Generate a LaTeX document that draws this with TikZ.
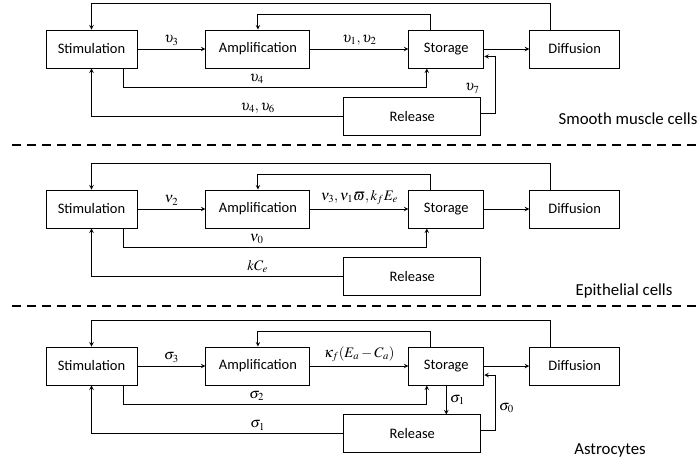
\documentclass[tikz,border=0pt]{standalone}
\usepackage{mathptmx}
\usepackage[no-math]{fontspec}
\setmainfont{Carlito}
\usetikzlibrary{positioning,arrows}
\tikzstyle{arrow} = [line width=1pt,->,>=stealth]
\tikzstyle{tBox} = [rectangle, draw=black, line width=0.9pt, align=center, minimum height=38pt, text centered, inner sep=2pt]
\tikzstyle{tDash} = [line width=2.4pt, dash pattern=on 9pt off 6pt]
\tikzstyle{tCells} = [font=\fontsize{16.8}{20}\selectfont]

\begin{document}
\begin{tikzpicture}[x=1pt,y=-1pt,font=\fontsize{14.5}{17}\selectfont]
        \useasboundingbox (0,0) rectangle (700,463);

        % smooth muscle cells
        \node[tBox, minimum width=91pt] (Stim1) at (91.5,49) {Stimulation};
        \node[tBox, minimum width=104pt] (Amp1) [right =68pt of Stim1] {Amplification} edge [arrow,<-] node[above] {$\upsilon_3$} (Stim1);
        \node[tBox, minimum width=75pt] (Stor1) [right =98pt of Amp1] {Storage} edge [arrow,<-] node[above] {$\upsilon_1,\upsilon_2$} (Amp1);
        \node[tBox, minimum width=90pt] (Diff1) [right =45pt of Stor1] {Diffusion} edge [arrow,<-] (Stor1);
        \node[tBox, minimum width=137pt] (Rel1) [below =29pt of Stor1, xshift=-34pt] {Release};
        \draw[arrow] ([xshift=-24pt]Diff1.north) -- ++(0,-26) -| (Stim1.north);
        \draw[arrow] ([xshift=-15.5pt]Stor1.north) -- ++(0,-15) -| (Amp1.north);
        \draw[arrow] ([xshift=31.5pt]Stim1.south) -- ++(0,19) -| node[pos=0.22,above] {$\upsilon_4$} ([xshift=-19.5pt]Stor1.south);
        \draw[arrow] (Rel1.west) -| node[pos=0.17,above] {$\upsilon_4,\upsilon_6$} (Stim1.south);
        \draw[arrow] ([yshift=3.5pt]Rel1.east) -- ++(14,0) |- node[pos=0.22,left=12pt] {$\upsilon_7$} ([yshift=-7.5pt]Stor1.east);
        \node[tCells] (Cells1) at (628,119) {Smooth muscle cells};
        \draw[tDash] (12,145) -- (700,145);

        % epithelial cells
        \node[tBox, minimum width=91pt] (Stim2) at (91.5,209) {Stimulation};
        \node[tBox, minimum width=104pt] (Amp2) [right =68pt of Stim2] {Amplification} edge [arrow,<-] node[above] {$\nu_2$} (Stim2);
        \node[tBox, minimum width=75pt] (Stor2) [right =98pt of Amp2] {Storage} edge [arrow,<-] node[above] {$\nu_3,\nu_1\varpi,k_f E_e$} (Amp2);
        \node[tBox, minimum width=90pt] (Diff2) [right =45pt of Stor2] {Diffusion} edge [arrow,<-] (Stor2);
        \node[tBox, minimum width=137pt] (Rel2) [below =29pt of Stor2, xshift=-34pt] {Release};
        \draw[arrow] ([xshift=-24pt]Diff2.north) -- ++(0,-26) -| (Stim2.north);
        \draw[arrow] ([xshift=-15.5pt]Stor2.north) -- ++(0,-15) -| (Amp2.north);
        \draw[arrow] ([xshift=31.5pt]Stim2.south) -- ++(0,19) -| node[pos=0.22,above] {$\nu_0$} ([xshift=-19.5pt]Stor2.south);
        \draw[arrow] (Rel2.west) -| node[pos=0.17,above] {$kC_e$} (Stim2.south);
        \node[tCells] (Cells2) at (624,291) {Epithelial cells};
        \draw[tDash] (12,306) -- (700,306);

        % astrocytes
        \node[tBox, minimum width=91pt] (Stim3) at (91.5,366) {Stimulation};
        \node[tBox, minimum width=104pt] (Amp3) [right =68pt of Stim3] {Amplification} edge [arrow,<-] node[above] {$\sigma_3$} (Stim3);
        \node[tBox, minimum width=75pt] (Stor3) [right =98pt of Amp3] {Storage} edge [arrow,<-] node[above] {$\kappa_f(E_a-C_a)$} (Amp3);
        \node[tBox, minimum width=90pt] (Diff3) [right =45pt of Stor3] {Diffusion} edge [arrow,<-] (Stor3);
        \node[tBox, minimum width=137pt] (Rel3) [below =29pt of Stor3, xshift=-34pt] {Release};
        \draw[arrow] ([xshift=-24pt]Diff3.north) -- ++(0,-26) -| (Stim3.north);
        \draw[arrow] ([xshift=-15.5pt]Stor3.north) -- ++(0,-15) -| (Amp3.north);
        \draw[arrow] ([xshift=31.5pt]Stim3.south) -- ++(0,19) -| node[pos=0.22,above] {$\sigma_2$} ([xshift=-19.5pt]Stor3.south);
        \draw[arrow] (Rel3.west) -| node[pos=0.17,above] {$\sigma_1$} (Stim3.south);
        \draw[arrow] (Stor3.south) -- node[right] {$\sigma_1$} (Stor3.south |- Rel3.north);
        \draw[arrow] ([yshift=3.5pt]Rel3.east) -- ++(14,0) |- node[pos=0.2,right] {$\sigma_0$} ([yshift=-9pt]Stor3.east);
        \node[tCells] (Cells3) at (610,450) {Astrocytes};
\end{tikzpicture}
\end{document}
